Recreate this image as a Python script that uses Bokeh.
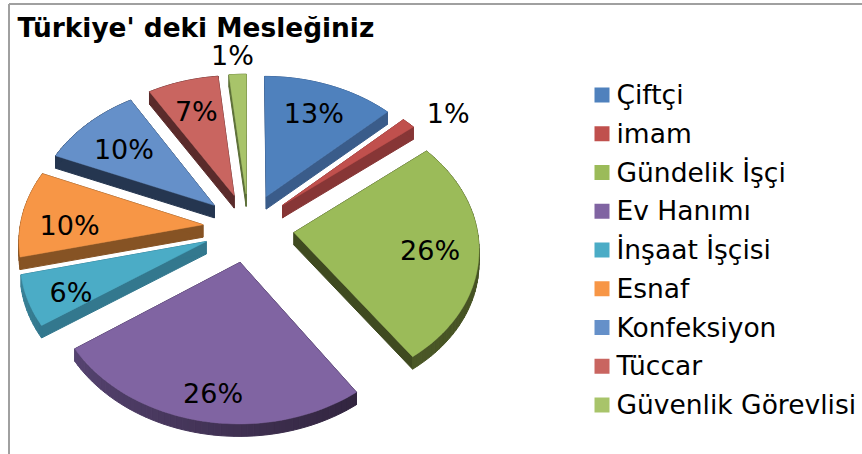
import math
from bokeh.plotting import figure
from bokeh.core.properties import value
from bokeh.embed import file_html
from bokeh.resources import INLINE

title_text = "Türkiye' deki Mesleğiniz"
categories = ["Çiftçi", "imam", "Gündelik İşçi", "Ev Hanımı", "İnşaat İşçisi", "Esnaf", "Konfeksiyon", "Tüccar", "Güvenlik Görevlisi"]
shares = [13.0, 1.3, 26.0, 25.2, 5.8, 10.0, 10.0, 7.0, 1.7]
pct_labels = ["13%", "1%", "26%", "26%", "6%", "10%", "10%", "7%", "1%"]
face_colors = ["#4f81bd", "#c0504d", "#9bbb59", "#8064a2", "#4bacc6", "#f79646", "#6590c9", "#c96560", "#a8c46a"]
wall_colors = ["#3a5c8a", "#873636", "#3f4a20", "#35294a", "#33788e", "#865324", "#253650", "#5a2b2b", "#5b6e36"]
rim_start = ["#3a5c8a", "#873636", "#3f4a20", "#32253f", "#33788e", "#865324", "#253650", "#5a2b2b", "#5b6e36"]
rim_end = ["#3a5c8a", "#873636", "#4a5726", "#554370", "#3a8298", "#865324", "#253650", "#5a2b2b", "#5b6e36"]
label_r = [0.73, 1.24, 0.74, 0.84, 0.78, 0.73, 0.69, 0.72, 1.18]
label_turn = [0.0, 0.08, 0.03, -0.03, -0.05, -0.09, -0.02, 0.0, -0.02]

CX, CY, A, B, PERSP, EXPL, DEPTH = 248, 227, 183, 138, 0.10, 0.25, 12.5


def project(X, Y):
    s = 1 / (1 - PERSP * Y)
    return CX + A * X * s, CY + B * Y * s, s


def lerp_color(c1, c2, t):
    a = [int(c1[i:i + 2], 16) for i in (1, 3, 5)]
    b = [int(c2[i:i + 2], 16) for i in (1, 3, 5)]
    return "#%02x%02x%02x" % tuple(round(u + (v - u) * t) for u, v in zip(a, b))


p = figure(width=862, height=454, x_range=(0, 862), y_range=(454, 0), x_axis_location=None, y_axis_location=None,
           toolbar_location=None, output_backend="svg", min_border=0, outline_line_color=None)
p.grid.visible = False

slices = []
total = sum(shares)
acc = 0.0
for i, v in enumerate(shares):
    t0 = acc / total * 2 * math.pi
    acc += v
    t1 = acc / total * 2 * math.pi
    mid = (t0 + t1) / 2
    ox, oy = EXPL * math.sin(mid), -EXPL * math.cos(mid)
    n = max(3, int(v * 2))
    rim = []
    for k in range(n + 1):
        t = t0 + (t1 - t0) * k / n
        rim.append(project(ox + math.sin(t), oy - math.cos(t)))
    apex = project(ox, oy)
    slices.append(dict(i=i, mid=mid, ox=ox, oy=oy, rim=rim, apex=apex))

for sl in sorted(slices, key=lambda q: q["apex"][1]):
    i, rim, apex = sl["i"], sl["rim"], sl["apex"]
    xs, ys, cols = [], [], []
    for r in (rim[0], rim[-1]):
        xs.append([apex[0], r[0], r[0], apex[0]])
        ys.append([apex[1], r[1], r[1] + DEPTH, apex[1] + DEPTH])
        cols.append(wall_colors[i])
    for k in range(len(rim) - 1):
        a, b = rim[k], rim[k + 1]
        xs.append([a[0], b[0], b[0], a[0]])
        ys.append([a[1], b[1], b[1] + DEPTH, a[1] + DEPTH])
        cols.append(lerp_color(rim_start[i], rim_end[i], k / (len(rim) - 2 or 1)))
    p.patches(xs, ys, fill_color=cols, line_color=cols, line_width=1)
    p.patch([apex[0]] + [r[0] for r in rim], [apex[1]] + [r[1] for r in rim],
            fill_color=face_colors[i], line_color=face_colors[i], line_width=0.5)

lx, ly = [], []
for sl in slices:
    r = label_r[sl["i"]]
    m = sl["mid"] + label_turn[sl["i"]]
    q = project(sl["ox"] + r * math.sin(m), sl["oy"] - r * math.cos(m))
    lx.append(q[0])
    ly.append(q[1])
p.text(lx, ly, text=pct_labels, text_font=value("DejaVu Sans"), text_font_size="27px", text_color="#000000",
       text_align="center", text_baseline="middle")

# border
p.line([8.5, 8.5], [454, 3.5], line_color="#a0a0a0", line_width=2)
p.line([8.5, 862], [3.5, 3.5], line_color="#a0a0a0", line_width=2)

p.text([17], [27], text=[title_text], text_font=value("DejaVu Sans"), text_font_size="26.4px", text_font_style="bold",
       text_color="#000000", text_align="left", text_baseline="middle")

# legend
ky = [94.5 + 38.75 * i for i in range(len(categories))]
p.rect([601.5] * len(ky), ky, width=15, height=15, fill_color=face_colors, line_color=None)
p.text([616] * len(ky), [y - 0.5 for y in ky], text=categories, text_font=value("DejaVu Sans"), text_font_size="26.5px",
       text_color="#000000", text_align="left", text_baseline="middle")

open("out.html", "w").write(file_html(p, INLINE))
